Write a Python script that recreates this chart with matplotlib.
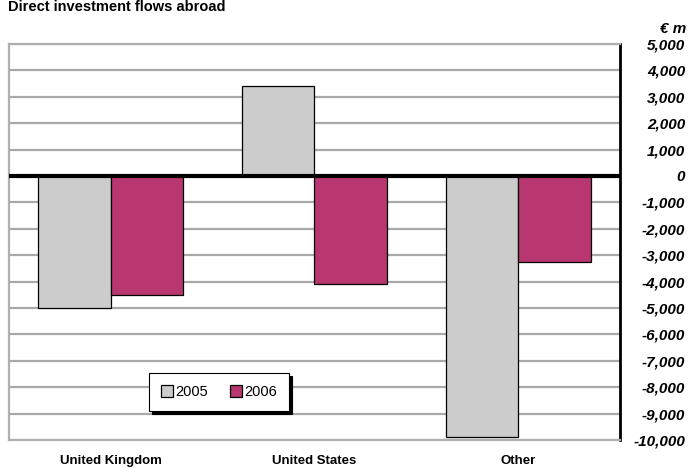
import numpy as np
import matplotlib
matplotlib.use("Agg")
import matplotlib.pyplot as plt

plt.rcParams['font.family'] = ['Liberation Sans', 'DejaVu Sans']

categories = ["United Kingdom", "United States", "Other"]
flows_2005 = [-5000, 3400, -9900]
flows_2006 = [-4500, -4100, -3250]
years = ["2005", "2006"]
yticks = list(range(-10000, 5001, 1000))

fig = plt.figure(figsize=(6.91, 4.68), dpi=100)
ax = fig.add_axes([9 / 691, 28 / 468, 611 / 691, 396 / 468])

x = np.arange(len(categories))
w = 0.356
ax.bar(x - w / 2, flows_2005, w, color="#cccccc", edgecolor="black", linewidth=0.9,
       label=years[0], zorder=3)
ax.bar(x + w / 2, flows_2006, w, color="#b83770", edgecolor="black", linewidth=0.9,
       label=years[1], zorder=3)

ax.set_xlim(-0.5, 2.5)
ax.set_ylim(-10000, 5000)
ax.set_yticks(yticks)
for t in yticks:
    if t != 0:
        ax.axhline(t, color="#a8a8a8", linewidth=1.6, zorder=1)
ax.axhline(0, color="black", linewidth=3, zorder=4)

ax.yaxis.tick_right()
ax.set_yticklabels([f"{t:,}" for t in yticks], fontsize=11, fontweight="bold",
                   fontstyle="italic", ha="right")
ax.tick_params(axis="y", length=0, pad=47)
ax.set_xticks(x)
ax.set_xticklabels(categories, fontsize=9.5, fontweight="bold")
ax.tick_params(axis="x", length=0, pad=11)

for side in ["left", "top", "bottom"]:
    ax.spines[side].set_color("#b0b0b0")
    ax.spines[side].set_linewidth(1.6)
ax.spines["right"].set_color("black")
ax.spines["right"].set_linewidth(2)

leg = ax.legend(loc="center", bbox_to_anchor=(0.344, 0.121), ncol=2, frameon=True,
                fancybox=False, edgecolor="black", framealpha=1,
                shadow={"color": "black", "alpha": 1}, fontsize=10.5,
                handlelength=0.8, handleheight=0.8, handletextpad=0.2,
                columnspacing=1.5, borderpad=0.8)
leg.get_frame().set_linewidth(0.8)

fig.text(8 / 691, 1 - 7 / 468, "Direct investment flows abroad", fontsize=10.5,
         fontweight="bold", ha="left", va="center")
fig.text(686 / 691, 1 - 29 / 468, "€ m", fontsize=11, fontweight="bold",
         fontstyle="italic", ha="right", va="center")

fig.savefig("out.png", dpi=100)
